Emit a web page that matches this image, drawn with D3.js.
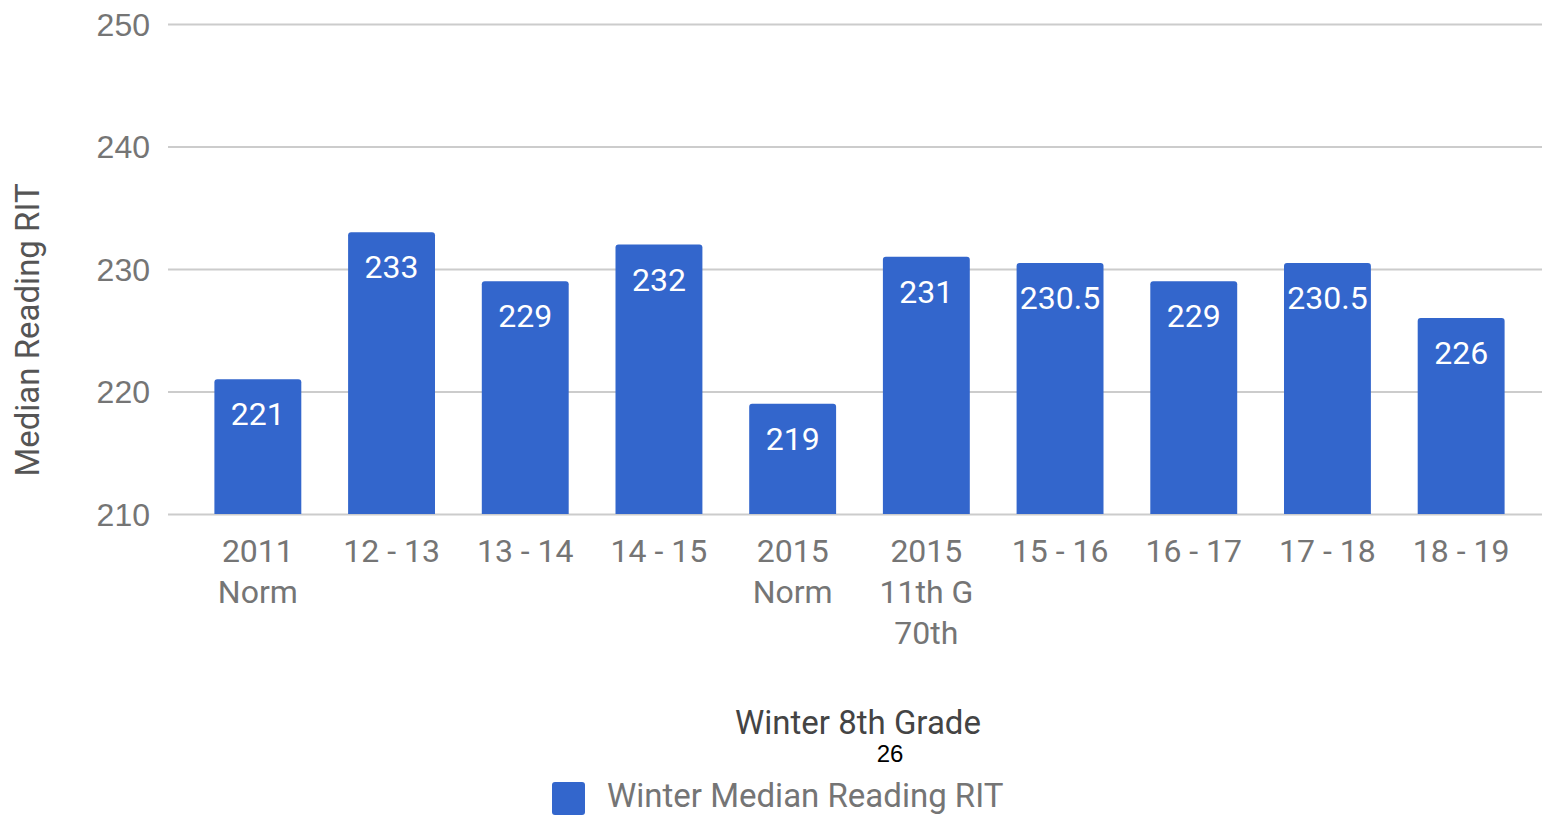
<!DOCTYPE html>
<html>
<head>
<meta charset="utf-8">
<script src="https://cdn.jsdelivr.net/npm/d3@7"></script>
<style>
  body { margin: 0; background: #fff; }
  svg { display: block; font-family: Roboto, "Noto Sans", sans-serif; }
</style>
</head>
<body>
<div id="container"></div>
<script>
// data
var categories = ["2011\nNorm", "12 - 13", "13 - 14", "14 - 15", "2015\nNorm",
                  "2015\n11th G\n70th", "15 - 16", "16 - 17", "17 - 18", "18 - 19"];
var values = [221, 233, 229, 232, 219, 231, 230.5, 229, 230.5, 226];
var yTicks = [210, 220, 230, 240, 250];
var seriesName = "Winter Median Reading RIT";

var width = 1542, height = 815;
var barColor = "#3366cc";

var svg = d3.select("div#container")
  .append("svg")
  .attr("width", width)
  .attr("height", height);

var x = d3.scaleBand()
  .domain(categories)
  .range([191, 1528])
  .paddingInner(0.35)
  .paddingOuter(0.175);

var y = d3.scaleLinear()
  .domain([210, 250])
  .range([514, 24]);

// gridlines
var yAxis = d3.axisLeft(y).tickValues(yTicks).tickSize(-(1542 - 168)).tickPadding(18);
var gy = svg.append("g").attr("transform", "translate(168,0)").call(yAxis);
gy.select(".domain").remove();
gy.selectAll(".tick line").attr("stroke", "#cccccc").attr("stroke-width", 2);
gy.selectAll(".tick text")
  .attr("fill", "#757575")
  .style("font-size", "32px")
  .attr("dy", "0.35em");

// bars with slightly rounded tops
function barPath(d, i) {
  var x0 = x(categories[i]), w = x.bandwidth();
  var top = y(d), bottom = y(210), r = 3;
  return "M" + x0 + "," + bottom +
    "V" + (top + r) +
    "Q" + x0 + "," + top + " " + (x0 + r) + "," + top +
    "H" + (x0 + w - r) +
    "Q" + (x0 + w) + "," + top + " " + (x0 + w) + "," + (top + r) +
    "V" + bottom + "Z";
}

svg.append("g").selectAll("path")
  .data(values)
  .enter().append("path")
  .attr("d", barPath)
  .attr("fill", barColor);

// value labels
svg.append("g").selectAll("text")
  .data(values)
  .enter().append("text")
  .attr("x", function(d, i) { return x(categories[i]) + x.bandwidth() / 2; })
  .attr("y", function(d) { return y(d) + 46; })
  .attr("text-anchor", "middle")
  .attr("fill", "#ffffff")
  .style("font-size", "32px")
  .text(function(d) { return d; });

// category labels
var cat = svg.append("g").selectAll("text")
  .data(categories)
  .enter().append("text")
  .attr("x", function(d) { return x(d) + x.bandwidth() / 2; })
  .attr("y", 562)
  .attr("text-anchor", "middle")
  .attr("fill", "#757575")
  .style("font-size", "32px");

cat.each(function(d) {
  var t = d3.select(this);
  d.split("\n").forEach(function(line, k) {
    t.append("tspan")
      .attr("x", t.attr("x"))
      .attr("dy", k === 0 ? 0 : 41)
      .text(line);
  });
});

// axis titles
svg.append("text")
  .attr("transform", "translate(39,330) rotate(-90)")
  .attr("text-anchor", "middle")
  .attr("fill", "#555555")
  .style("font-size", "33px")
  .text("Median Reading RIT");

svg.append("text")
  .attr("x", 858)
  .attr("y", 734)
  .attr("text-anchor", "middle")
  .attr("fill", "#444444")
  .style("font-size", "33px")
  .text("Winter 8th Grade");

svg.append("text")
  .attr("x", 890)
  .attr("y", 762)
  .attr("text-anchor", "middle")
  .attr("fill", "#000000")
  .style("font-family", "Arial, 'Liberation Sans', sans-serif")
  .style("font-size", "24px")
  .text("26");

// legend
svg.append("rect")
  .attr("x", 552).attr("y", 782)
  .attr("width", 33).attr("height", 33)
  .attr("rx", 3)
  .attr("fill", barColor);

svg.append("text")
  .attr("x", 607)
  .attr("y", 807)
  .attr("fill", "#757575")
  .style("font-size", "33px")
  .text(seriesName);
</script>
</body>
</html>
